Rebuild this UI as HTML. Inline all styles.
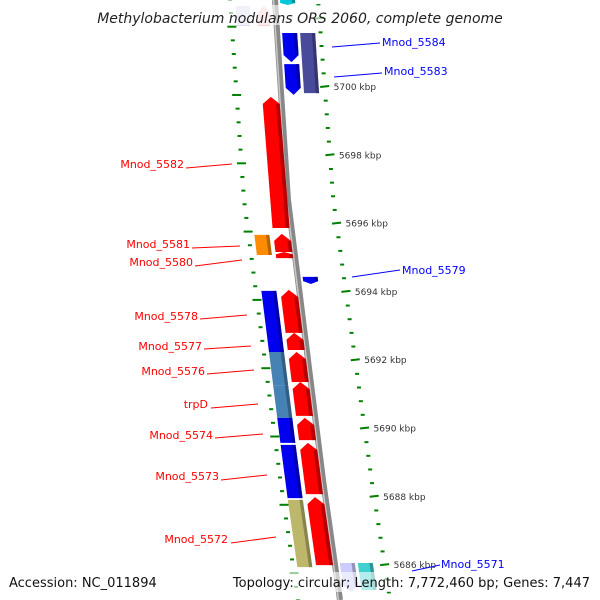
<!DOCTYPE html>
<html><head><meta charset="utf-8"><style>
body{margin:0;background:#fff}
svg{display:block;font-family:"DejaVu Sans","Liberation Sans",sans-serif}
</style></head><body>
<svg id="c" width="600" height="600" viewBox="0 0 600 600"></svg>
<script>
const tickKbp=[5700,5698,5696,5694,5692,5690,5688,5686];
const geneNames=["cyan-top","Mnod_5584","Mnod_5583","purple-5583","Mnod_5582","Mnod_5581","Mnod_5580","orange-5581","Mnod_5579","Mnod_5578","Mnod_5577","Mnod_5576","trpD","Mnod_5574","Mnod_5573","Mnod_5572","blue-5578","steel-5576","steel-trpD","blue-5574","blue-5573","khaki-5572","Mnod_5571","cyan-5571"];
const geneStart=[5702.55,5701.58,5700.67,5701.58,5699.71,5695.70,5695.17,5695.67,5694.44,5694.06,5692.80,5692.24,5691.36,5690.31,5689.58,5687.99,5694.03,5692.24,5691.27,5690.31,5689.52,5687.91,5686.06,5686.06];
const geneEnd  =[5702.40,5700.73,5699.77,5699.82,5695.87,5695.17,5694.99,5695.08,5694.23,5692.80,5692.30,5691.36,5690.37,5689.66,5688.08,5686.00,5692.24,5691.27,5690.31,5689.58,5687.96,5685.94,5685.21,5685.27];
const geneLane =["o1","o1","o1","o2","i1","i1","i1","i2","o1","i1","i1","i1","i1","i1","i1","i1","i2","i2","i2","i2","i2","i2","o1","o2"];
const geneStrand=[-1,-1,-1,0,1,1,1,0,-1,1,1,1,1,1,1,1,0,0,0,0,0,0,-1,0];
const geneColor=["#00c8d8","#0000ee","#0000ee","#4a4a9a","#ff0000","#ff0000","#ff0000","#ff8c00","#0000ee","#ff0000","#ff0000","#ff0000","#ff0000","#ff0000","#ff0000","#ff0000","#0000ee","#4682b4","#4682b4","#0000ee","#0000ee","#bdb76b","#ccccff","#40d0d0"];
const labels=[
 {t:"Mnod_5582",c:"red",x:184,y:168,a:"end",lx:186,ly:168,ex:232,ey:164},
 {t:"Mnod_5581",c:"red",x:190,y:248,a:"end",lx:192,ly:248,ex:240,ey:246},
 {t:"Mnod_5580",c:"red",x:193,y:266,a:"end",lx:195,ly:266,ex:242,ey:260},
 {t:"Mnod_5578",c:"red",x:198,y:320,a:"end",lx:200,ly:319,ex:247,ey:315},
 {t:"Mnod_5577",c:"red",x:202,y:350,a:"end",lx:204,ly:349,ex:251,ey:346},
 {t:"Mnod_5576",c:"red",x:205,y:375,a:"end",lx:207,ly:374,ex:254,ey:370},
 {t:"trpD",c:"red",x:208,y:408,a:"end",lx:211,ly:408,ex:258,ey:404},
 {t:"Mnod_5574",c:"red",x:213,y:439,a:"end",lx:215,ly:438,ex:263,ey:434},
 {t:"Mnod_5573",c:"red",x:219,y:480,a:"end",lx:221,ly:480,ex:267,ey:475},
 {t:"Mnod_5572",c:"red",x:228,y:543,a:"end",lx:231,ly:543,ex:276,ey:537},
 {t:"Mnod_5584",c:"blue",x:382,y:46,a:"start",lx:332,ly:47,ex:380,ey:43},
 {t:"Mnod_5583",c:"blue",x:384,y:75,a:"start",lx:334,ly:77,ex:382,ey:73},
 {t:"Mnod_5579",c:"blue",x:402,y:274,a:"start",lx:352,ly:277,ex:400,ey:270},
 {t:"Mnod_5571",c:"blue",x:441,y:568,a:"start",lx:412,ly:571,ex:440,ey:565}
];
const S="http://www.w3.org/2000/svg",svg=document.getElementById("c");
function el(t,a,p){const e=document.createElementNS(S,t);for(const k in a)e.setAttribute(k,a[k]);(p||svg).appendChild(e);return e;}
function yS(k){return 87+(5700-k)*34.15;}
const bp=[[0,275],[200,288],[280,298],[480,323],[600,340]];
function bx(y){for(let i=0;i<bp.length-1;i++){if(y<=bp[i+1][0]||i==bp.length-2){const[a,b]=bp[i],[c,d]=bp[i+1];return b+(d-b)*(y-a)/(c-a);}}}
const lanes={o1:[5,20],o2:[23,38],i1:[-19,-2],i2:[-38,-23]};
// rings
const rings=el("g",{});
for(let k=5703.2;k>=5684.8;k-=0.4){const y=yS(k);const major=Math.abs(k-Math.round(k))<0.05&&Math.round(k)%2==0;
 const rx=bx(y)+43+y/600*7,w=major?9:4;
 const r=el("line",{x1:rx-w/2,y1:y,x2:rx+w/2,y2:y+(major?-1:0),stroke:"#008000","stroke-width":2},rings);
 
 const y2=y+8,lx=bx(y2)-45+y2/600*3;
 const l=el("line",{x1:lx-w/2,y1:y2,x2:lx+w/2,y2:y2,stroke:"#008000","stroke-width":2},rings);
 }
// backbone
let d="";for(let y=0;y<=600;y+=10)d+=(y?"L":"M")+bx(y)+" "+y;
const bb=el("path",{d:d,stroke:"#888",fill:"none","stroke-width":6});
el("path",{d:d,stroke:"#c8c8c8",fill:"none","stroke-width":1.5,transform:"translate(-1.5,0)"});
// genes
function shade(c){const n=parseInt(c.slice(1),16);let r=n>>16,g=n>>8&255,b=n&255;return`rgb(${r*.6|0},${g*.6|0},${b*.6|0})`;}
geneNames.forEach((nm,i)=>{const y0=yS(geneStart[i]),y1=yS(geneEnd[i]);const[o0,o1]=lanes[geneLane[i]];
 const g=el("g",{});
 const L=y=>bx(y)+o0,R=y=>bx(y)+o1,M=y=>bx(y)+(o0+o1)/2;const h=Math.min(7,(y1-y0)*0.4),s=geneStrand[i];let pts;
 if(s==1)pts=[[M(y0),y0],[R(y0+h),y0+h],[R(y1),y1],[L(y1),y1],[L(y0+h),y0+h]];
 else if(s==-1)pts=[[L(y0),y0],[R(y0),y0],[R(y1-h),y1-h],[M(y1),y1],[L(y1-h),y1-h]];
 else pts=[[L(y0),y0],[R(y0),y0],[R(y1),y1],[L(y1),y1]];
 el("polygon",{points:pts.map(p=>p.join(",")).join(" "),fill:geneColor[i]},g);
 const sw=(o1-o0)*0.22;const sp=s==1?[[R(y0+h)-sw,y0+h],[R(y0+h),y0+h],[R(y1),y1],[R(y1)-sw,y1]]:s==-1?[[R(y0)-sw,y0],[R(y0),y0],[R(y1-h),y1-h],[R(y1-h)-sw,y1-h]]:[[R(y0)-sw,y0],[R(y0),y0],[R(y1),y1],[R(y1)-sw,y1]];
 el("polygon",{points:sp.map(p=>p.join(",")).join(" "),fill:shade(geneColor[i]),opacity:0.7},g);});
// faded top-left features
el("rect",{x:236,y:6,width:14,height:20,fill:"#dcdcf0"});el("polygon",{points:"258,26 258,12 264,6 270,12 270,26",fill:"#f8d0d0"});
// kbp labels
tickKbp.forEach(k=>{const y=yS(k);const t=el("text",{x:bx(y)+43+y/600*7+9,y:y+3,"font-size":9,fill:"#333"});t.textContent=k+" kbp";});
// labels
labels.forEach(l=>{const g=el("g",{});
 el("line",{x1:l.lx,y1:l.ly,x2:l.ex,y2:l.ey,stroke:l.c,"stroke-width":1},g);
 const t=el("text",{x:l.x,y:l.y,"font-size":11,fill:l.c,"text-anchor":l.a},g);t.textContent=l.t;});
// title & footer
el("rect",{x:100,y:5,width:400,height:20,fill:"#fff",opacity:0.6});
const ti=el("text",{x:300,y:23,"font-size":14,"font-style":"italic","text-anchor":"middle",fill:"#222"});ti.textContent="Methylobacterium nodulans ORS 2060, complete genome";
el("rect",{x:0,y:572,width:600,height:20,fill:"#fff",opacity:0.6});
const f1=el("text",{x:9,y:587,"font-size":13,fill:"#111"});f1.textContent="Accession: NC_011894";
const f2=el("text",{x:590,y:587,"font-size":13,fill:"#111","text-anchor":"end"});f2.textContent="Topology: circular; Length: 7,772,460 bp; Genes: 7,447";
</script>
</body></html>
